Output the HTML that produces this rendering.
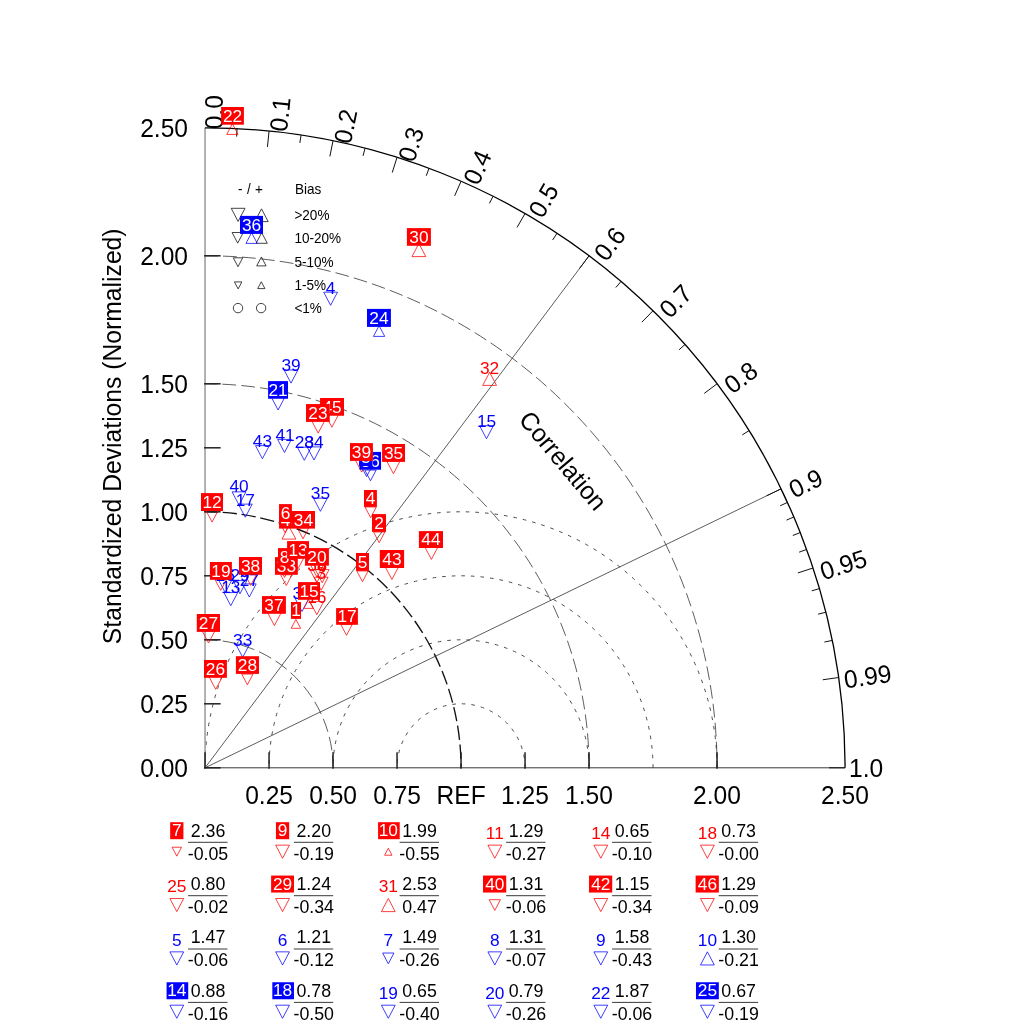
<!DOCTYPE html><html><head><meta charset="utf-8"><style>html,body{margin:0;padding:0;background:#fff}svg{display:block;will-change:transform;opacity:0.9999}text{font-family:"Liberation Sans",sans-serif}</style></head><body>
<svg width="1024" height="1024" viewBox="0 0 1024 1024">
<rect width="1024" height="1024" fill="#fff"/>
<clipPath id="q"><path d="M205.05 767.8 L845.05 767.8 A640 640 0 0 0 205.05 127.79999999999995 Z"/></clipPath>
<g clip-path="url(#q)">
<path d="M525.05 767.80 A64.00 64.00 0 0 0 397.05 767.80" fill="none" stroke="#4a4a4a" stroke-width="1.0" stroke-dasharray="3.6 6"/>
<path d="M589.05 767.80 A128.00 128.00 0 0 0 333.05 767.80" fill="none" stroke="#4a4a4a" stroke-width="1.0" stroke-dasharray="3.6 6"/>
<path d="M653.05 767.80 A192.00 192.00 0 0 0 269.05 767.80" fill="none" stroke="#4a4a4a" stroke-width="1.0" stroke-dasharray="3.6 6"/>
<path d="M717.05 767.80 A256.00 256.00 0 0 0 205.05 767.80" fill="none" stroke="#4a4a4a" stroke-width="1.0" stroke-dasharray="3.6 6"/>
</g>
<path d="M333.05 767.80 A128.00 128.00 0 0 0 205.05 639.80" fill="none" stroke="#333" stroke-width="0.8" stroke-dasharray="13.8 5.2" stroke-dashoffset="1.5"/>
<path d="M589.05 767.80 A384.00 384.00 0 0 0 205.05 383.80" fill="none" stroke="#333" stroke-width="0.8" stroke-dasharray="13.8 5.2" stroke-dashoffset="17.2"/>
<path d="M717.05 767.80 A512.00 512.00 0 0 0 205.05 255.80" fill="none" stroke="#333" stroke-width="0.8" stroke-dasharray="13.8 5.2" stroke-dashoffset="6.6"/>
<path d="M461.05 767.80 A256.00 256.00 0 0 0 205.05 511.80" fill="none" stroke="#111" stroke-width="1.35" stroke-dasharray="14.3 4.7" stroke-dashoffset="10"/>
<line x1="205.05" y1="767.8" x2="589.05" y2="255.80" stroke="#333" stroke-width="0.8"/>
<line x1="205.05" y1="767.8" x2="781.05" y2="488.83" stroke="#333" stroke-width="0.8"/>
<line x1="205.05" y1="767.8" x2="845.05" y2="767.8" stroke="#222" stroke-width="0.9"/>
<line x1="205.05" y1="127.79999999999995" x2="205.05" y2="767.8" stroke="#999" stroke-width="1.5"/>
<path d="M845.05 767.80 A640.00 640.00 0 0 0 205.05 127.80" fill="none" stroke="#000" stroke-width="1.3"/>
<line x1="204.05" y1="767.8" x2="220.65" y2="767.8" stroke="#222" stroke-width="1.5"/>
<line x1="204.05" y1="703.8" x2="220.65" y2="703.8" stroke="#222" stroke-width="1.5"/>
<line x1="204.05" y1="639.8" x2="220.65" y2="639.8" stroke="#222" stroke-width="1.5"/>
<line x1="204.05" y1="575.8" x2="220.65" y2="575.8" stroke="#222" stroke-width="1.5"/>
<line x1="204.05" y1="511.79999999999995" x2="220.65" y2="511.79999999999995" stroke="#222" stroke-width="1.5"/>
<line x1="204.05" y1="447.79999999999995" x2="220.65" y2="447.79999999999995" stroke="#222" stroke-width="1.5"/>
<line x1="204.05" y1="383.79999999999995" x2="220.65" y2="383.79999999999995" stroke="#222" stroke-width="1.5"/>
<line x1="204.05" y1="255.79999999999995" x2="220.65" y2="255.79999999999995" stroke="#222" stroke-width="1.5"/>
<line x1="205.05" y1="768.8" x2="205.05" y2="752.1999999999999" stroke="#222" stroke-width="1.5"/>
<line x1="269.05" y1="768.8" x2="269.05" y2="752.1999999999999" stroke="#222" stroke-width="1.5"/>
<line x1="333.05" y1="768.8" x2="333.05" y2="752.1999999999999" stroke="#222" stroke-width="1.5"/>
<line x1="397.05" y1="768.8" x2="397.05" y2="752.1999999999999" stroke="#222" stroke-width="1.5"/>
<line x1="461.05" y1="768.8" x2="461.05" y2="752.1999999999999" stroke="#222" stroke-width="1.5"/>
<line x1="525.05" y1="768.8" x2="525.05" y2="752.1999999999999" stroke="#222" stroke-width="1.5"/>
<line x1="589.05" y1="768.8" x2="589.05" y2="752.1999999999999" stroke="#222" stroke-width="1.5"/>
<line x1="717.05" y1="768.8" x2="717.05" y2="752.1999999999999" stroke="#222" stroke-width="1.5"/>
<line x1="269.05" y1="131.01" x2="267.45" y2="146.93" stroke="#111" stroke-width="1.0"/>
<line x1="333.05" y1="140.73" x2="329.85" y2="156.41" stroke="#111" stroke-width="1.0"/>
<line x1="397.05" y1="157.28" x2="392.25" y2="172.54" stroke="#111" stroke-width="1.0"/>
<line x1="461.05" y1="181.23" x2="454.65" y2="195.89" stroke="#111" stroke-width="1.0"/>
<line x1="525.05" y1="213.54" x2="517.05" y2="227.40" stroke="#111" stroke-width="1.0"/>
<line x1="589.05" y1="255.80" x2="579.45" y2="268.60" stroke="#111" stroke-width="1.0"/>
<line x1="653.05" y1="310.75" x2="641.85" y2="322.17" stroke="#111" stroke-width="1.0"/>
<line x1="717.05" y1="383.80" x2="704.25" y2="393.40" stroke="#111" stroke-width="1.0"/>
<line x1="781.05" y1="488.83" x2="766.65" y2="495.80" stroke="#111" stroke-width="1.0"/>
<line x1="813.05" y1="567.96" x2="797.85" y2="572.96" stroke="#111" stroke-width="1.0"/>
<line x1="838.65" y1="677.52" x2="822.81" y2="679.77" stroke="#111" stroke-width="1.0"/>
<line x1="845.05" y1="767.80" x2="829.05" y2="767.80" stroke="#111" stroke-width="1.0"/>
<line x1="237.05" y1="128.60" x2="236.65" y2="136.59" stroke="#111" stroke-width="1.0"/>
<line x1="301.05" y1="135.04" x2="299.85" y2="142.95" stroke="#111" stroke-width="1.0"/>
<line x1="365.05" y1="148.12" x2="363.05" y2="155.87" stroke="#111" stroke-width="1.0"/>
<line x1="429.05" y1="168.28" x2="426.25" y2="175.77" stroke="#111" stroke-width="1.0"/>
<line x1="493.05" y1="196.26" x2="489.45" y2="203.41" stroke="#111" stroke-width="1.0"/>
<line x1="557.05" y1="233.29" x2="552.65" y2="239.98" stroke="#111" stroke-width="1.0"/>
<line x1="621.05" y1="281.44" x2="615.85" y2="287.52" stroke="#111" stroke-width="1.0"/>
<line x1="685.05" y1="344.48" x2="679.05" y2="349.77" stroke="#111" stroke-width="1.0"/>
<line x1="749.05" y1="430.66" x2="742.25" y2="434.87" stroke="#111" stroke-width="1.0"/>
<line x1="787.45" y1="502.45" x2="780.17" y2="505.77" stroke="#111" stroke-width="1.0"/>
<line x1="793.85" y1="516.97" x2="786.49" y2="520.11" stroke="#111" stroke-width="1.0"/>
<line x1="800.25" y1="532.56" x2="792.81" y2="535.50" stroke="#111" stroke-width="1.0"/>
<line x1="806.65" y1="549.45" x2="799.13" y2="552.18" stroke="#111" stroke-width="1.0"/>
<line x1="819.45" y1="588.60" x2="811.77" y2="590.84" stroke="#111" stroke-width="1.0"/>
<line x1="825.85" y1="612.21" x2="818.09" y2="614.16" stroke="#111" stroke-width="1.0"/>
<line x1="832.25" y1="640.44" x2="824.41" y2="642.03" stroke="#111" stroke-width="1.0"/>
<text transform="translate(188 777.0) scale(0.975 1)" font-size="25.2" text-anchor="end">0.00</text>
<text transform="translate(188 713.0) scale(0.975 1)" font-size="25.2" text-anchor="end">0.25</text>
<text transform="translate(188 649.0) scale(0.975 1)" font-size="25.2" text-anchor="end">0.50</text>
<text transform="translate(188 585.0) scale(0.975 1)" font-size="25.2" text-anchor="end">0.75</text>
<text transform="translate(188 521.0) scale(0.975 1)" font-size="25.2" text-anchor="end">1.00</text>
<text transform="translate(188 457.0) scale(0.975 1)" font-size="25.2" text-anchor="end">1.25</text>
<text transform="translate(188 393.0) scale(0.975 1)" font-size="25.2" text-anchor="end">1.50</text>
<text transform="translate(188 265.0) scale(0.975 1)" font-size="25.2" text-anchor="end">2.00</text>
<text transform="translate(188 137.0) scale(0.975 1)" font-size="25.2" text-anchor="end">2.50</text>
<text transform="translate(269.1 803.5) scale(0.975 1)" font-size="25.2" text-anchor="middle">0.25</text>
<text transform="translate(333.1 803.5) scale(0.975 1)" font-size="25.2" text-anchor="middle">0.50</text>
<text transform="translate(397.1 803.5) scale(0.975 1)" font-size="25.2" text-anchor="middle">0.75</text>
<text transform="translate(461.1 803.5) scale(0.975 1)" font-size="25.2" text-anchor="middle">REF</text>
<text transform="translate(525.0 803.5) scale(0.975 1)" font-size="25.2" text-anchor="middle">1.25</text>
<text transform="translate(589.0 803.5) scale(0.975 1)" font-size="25.2" text-anchor="middle">1.50</text>
<text transform="translate(717.0 803.5) scale(0.975 1)" font-size="25.2" text-anchor="middle">2.00</text>
<text transform="translate(845.0 803.5) scale(0.975 1)" font-size="25.2" text-anchor="middle">2.50</text>
<text transform="translate(205.05 129.30) rotate(-90.00) translate(0 18.1) scale(0.975 1)" font-size="25.2">0.0</text>
<text transform="translate(269.11 130.41) rotate(-84.26) translate(0 18.1) scale(0.975 1)" font-size="25.2">0.1</text>
<text transform="translate(332.95 141.22) rotate(-78.46) translate(0 18.1) scale(0.975 1)" font-size="25.2">0.2</text>
<text transform="translate(396.90 157.76) rotate(-72.54) translate(0 18.1) scale(0.975 1)" font-size="25.2">0.3</text>
<text transform="translate(461.93 179.21) rotate(-66.42) translate(0 18.1) scale(0.975 1)" font-size="25.2">0.4</text>
<text transform="translate(526.85 210.43) rotate(-60.00) translate(0 18.1) scale(0.975 1)" font-size="25.2">0.5</text>
<text transform="translate(591.93 251.96) rotate(-53.13) translate(0 18.1) scale(0.975 1)" font-size="25.2">0.6</text>
<text transform="translate(656.97 306.75) rotate(-45.57) translate(0 18.1) scale(0.975 1)" font-size="25.2">0.7</text>
<text transform="translate(721.61 380.38) rotate(-36.87) translate(0 18.1) scale(0.975 1)" font-size="25.2">0.8</text>
<text transform="translate(787.80 485.56) rotate(-25.84) translate(0 14.6) scale(0.975 1)" font-size="25.2">0.9</text>
<text transform="translate(818.65 566.12) rotate(-18.19) translate(0 15.2) scale(0.975 1)" font-size="25.2">0.95</text>
<text transform="translate(843.60 676.81) rotate(-8.11) translate(0 11.8) scale(0.975 1)" font-size="25.2">0.99</text>
<text transform="translate(849.05 767.80) rotate(-0.00) translate(0 8.8) scale(0.975 1)" font-size="25.2">1.0</text>
<text transform="translate(517.8 420.3) rotate(50) scale(0.975 1)" font-size="25.2">Correlation</text>
<text transform="translate(121.2 436.3) rotate(-90) scale(0.98 1)" font-size="25.2" text-anchor="middle">Standardized Deviations (Normalized)</text>
<text transform="translate(250.5 193.75) scale(0.955 1)" font-size="14.2" fill="#000" text-anchor="middle" word-spacing="0.6">- / +</text>
<text transform="translate(295.0 193.75) scale(0.955 1)" font-size="14.2" fill="#000" text-anchor="start" word-spacing="0.6">Bias</text>
<text transform="translate(294.4 219.7) scale(0.955 1)" font-size="14.2" fill="#000" text-anchor="start" word-spacing="0.6">&gt;20%</text>
<text transform="translate(294.4 243.1) scale(0.955 1)" font-size="14.2" fill="#000" text-anchor="start" word-spacing="0.6">10-20%</text>
<text transform="translate(294.4 266.6) scale(0.955 1)" font-size="14.2" fill="#000" text-anchor="start" word-spacing="0.6">5-10%</text>
<text transform="translate(294.4 289.9) scale(0.955 1)" font-size="14.2" fill="#000" text-anchor="start" word-spacing="0.6">1-5%</text>
<text transform="translate(294.4 313.0) scale(0.955 1)" font-size="14.2" fill="#000" text-anchor="start" word-spacing="0.6">&lt;1%</text>
<polygon points="231.20,208.30 245.00,208.30 238.10,221.41" fill="none" stroke="#222" stroke-width="0.85"/>
<polygon points="254.80,221.60 268.20,221.60 261.50,208.87" fill="none" stroke="#222" stroke-width="0.85"/>
<polygon points="232.10,232.50 243.30,232.50 237.70,243.14" fill="none" stroke="#222" stroke-width="0.85"/>
<polygon points="256.10,243.30 267.30,243.30 261.70,232.66" fill="none" stroke="#222" stroke-width="0.85"/>
<polygon points="233.30,257.80 242.70,257.80 238.00,266.73" fill="none" stroke="#222" stroke-width="0.85"/>
<polygon points="256.70,265.90 266.10,265.90 261.40,256.97" fill="none" stroke="#222" stroke-width="0.85"/>
<polygon points="234.45,281.90 241.85,281.90 238.15,288.93" fill="none" stroke="#222" stroke-width="0.85"/>
<polygon points="257.70,288.60 264.90,288.60 261.30,281.76" fill="none" stroke="#222" stroke-width="0.85"/>
<circle cx="238.0" cy="308.1" r="4.7" fill="none" stroke="#222" stroke-width="0.85"/>
<circle cx="261.1" cy="308.1" r="4.7" fill="none" stroke="#222" stroke-width="0.85"/>
<polygon points="323.70,292.19 337.50,292.19 330.60,305.30" fill="none" stroke="#0000ff" stroke-width="0.75"/>
<polygon points="284.10,369.99 297.90,369.99 291.00,383.10" fill="none" stroke="#0000ff" stroke-width="0.75"/>
<polygon points="255.50,445.64 269.30,445.64 262.40,458.75" fill="none" stroke="#0000ff" stroke-width="0.75"/>
<polygon points="277.60,439.39 291.40,439.39 284.50,452.50" fill="none" stroke="#0000ff" stroke-width="0.75"/>
<polygon points="297.40,447.19 311.20,447.19 304.30,460.30" fill="none" stroke="#0000ff" stroke-width="0.75"/>
<polygon points="307.10,446.89 320.90,446.89 314.00,460.00" fill="none" stroke="#0000ff" stroke-width="0.75"/>
<polygon points="232.10,491.89 245.90,491.89 239.00,505.00" fill="none" stroke="#0000ff" stroke-width="0.75"/>
<polygon points="238.40,504.14 252.20,504.14 245.30,517.25" fill="none" stroke="#0000ff" stroke-width="0.75"/>
<polygon points="313.50,498.19 327.30,498.19 320.40,511.30" fill="none" stroke="#0000ff" stroke-width="0.75"/>
<polygon points="479.60,425.69 493.40,425.69 486.50,438.80" fill="none" stroke="#0000ff" stroke-width="0.75"/>
<polygon points="235.80,644.19 249.60,644.19 242.70,657.30" fill="none" stroke="#0000ff" stroke-width="0.75"/>
<polygon points="218.35,579.49 232.15,579.49 225.25,592.60" fill="none" stroke="#0000ff" stroke-width="0.75"/>
<polygon points="233.10,580.64 246.90,580.64 240.00,593.75" fill="none" stroke="#0000ff" stroke-width="0.75"/>
<polygon points="242.40,583.89 256.20,583.89 249.30,597.00" fill="none" stroke="#0000ff" stroke-width="0.75"/>
<polygon points="223.90,592.59 237.70,592.59 230.80,605.70" fill="none" stroke="#0000ff" stroke-width="0.75"/>
<polygon points="295.10,598.39 308.90,598.39 302.00,611.50" fill="none" stroke="#0000ff" stroke-width="0.75"/>
<polygon points="482.70,385.40 496.50,385.40 489.60,372.29" fill="none" stroke="#ff0000" stroke-width="0.75"/>
<polygon points="282.00,539.10 295.80,539.10 288.90,525.99" fill="none" stroke="#ff0000" stroke-width="0.75"/>
<polygon points="309.90,569.59 323.70,569.59 316.80,582.70" fill="none" stroke="#ff0000" stroke-width="0.75"/>
<polygon points="315.30,569.59 329.10,569.59 322.20,582.70" fill="none" stroke="#ff0000" stroke-width="0.75"/>
<polygon points="314.30,577.19 328.10,577.19 321.20,590.30" fill="none" stroke="#ff0000" stroke-width="0.75"/>
<polygon points="309.90,601.59 323.70,601.59 316.80,614.70" fill="none" stroke="#ff0000" stroke-width="0.75"/>
<polygon points="245.95,243.40 257.25,243.40 251.60,232.66" fill="none" stroke="#0000ff" stroke-width="0.75"/>
<polygon points="271.20,396.89 285.00,396.89 278.10,410.00" fill="none" stroke="#0000ff" stroke-width="0.75"/>
<polygon points="373.45,336.40 384.75,336.40 379.10,325.66" fill="none" stroke="#0000ff" stroke-width="0.75"/>
<polygon points="364.85,470.06 376.15,470.06 370.50,480.80" fill="none" stroke="#0000ff" stroke-width="0.75"/>
<polygon points="360.95,465.87 372.25,465.87 366.60,476.60" fill="none" stroke="#0000ff" stroke-width="0.75"/>
<polygon points="226.75,134.40 238.05,134.40 232.40,123.66" fill="none" stroke="#ff0000" stroke-width="0.75"/>
<polygon points="412.00,256.60 425.80,256.60 418.90,243.49" fill="none" stroke="#ff0000" stroke-width="0.75"/>
<polygon points="325.00,414.09 338.80,414.09 331.90,427.20" fill="none" stroke="#ff0000" stroke-width="0.75"/>
<polygon points="311.30,419.99 325.10,419.99 318.20,433.10" fill="none" stroke="#ff0000" stroke-width="0.75"/>
<polygon points="354.80,458.99 368.60,458.99 361.70,472.10" fill="none" stroke="#ff0000" stroke-width="0.75"/>
<polygon points="386.50,460.59 400.30,460.59 393.40,473.70" fill="none" stroke="#ff0000" stroke-width="0.75"/>
<polygon points="365.00,506.97 376.30,506.97 370.65,517.70" fill="none" stroke="#ff0000" stroke-width="0.75"/>
<polygon points="373.55,531.97 384.85,531.97 379.20,542.70" fill="none" stroke="#ff0000" stroke-width="0.75"/>
<polygon points="424.50,546.29 438.30,546.29 431.40,559.40" fill="none" stroke="#ff0000" stroke-width="0.75"/>
<polygon points="385.00,566.39 398.80,566.39 391.90,579.50" fill="none" stroke="#ff0000" stroke-width="0.75"/>
<polygon points="356.85,570.97 368.15,570.97 362.50,581.70" fill="none" stroke="#ff0000" stroke-width="0.75"/>
<polygon points="205.20,508.99 219.00,508.99 212.10,522.10" fill="none" stroke="#ff0000" stroke-width="0.75"/>

<polygon points="279.35,521.87 290.65,521.87 285.00,532.60" fill="none" stroke="#ff0000" stroke-width="0.75"/>
<polygon points="297.35,528.07 308.65,528.07 303.00,538.80" fill="none" stroke="#ff0000" stroke-width="0.75"/>
<polygon points="280.65,574.77 291.95,574.77 286.30,585.50" fill="none" stroke="#ff0000" stroke-width="0.75"/>
<polygon points="277.70,564.29 291.50,564.29 284.60,577.40" fill="none" stroke="#ff0000" stroke-width="0.75"/>
<polygon points="292.35,558.07 303.65,558.07 298.00,568.80" fill="none" stroke="#ff0000" stroke-width="0.75"/>
<polygon points="310.10,564.09 323.90,564.09 317.00,577.20" fill="none" stroke="#ff0000" stroke-width="0.75"/>
<polygon points="215.10,579.67 226.40,579.67 220.75,590.40" fill="none" stroke="#ff0000" stroke-width="0.75"/>
<polygon points="245.05,574.67 256.35,574.67 250.70,585.40" fill="none" stroke="#ff0000" stroke-width="0.75"/>
<polygon points="303.80,608.40 313.20,608.40 308.50,599.47" fill="none" stroke="#ff0000" stroke-width="0.75"/>
<polygon points="267.50,612.49 281.30,612.49 274.40,625.60" fill="none" stroke="#ff0000" stroke-width="0.75"/>
<polygon points="291.20,628.30 300.60,628.30 295.90,619.37" fill="none" stroke="#ff0000" stroke-width="0.75"/>
<polygon points="340.85,624.57 352.15,624.57 346.50,635.30" fill="none" stroke="#ff0000" stroke-width="0.75"/>
<polygon points="201.65,629.89 215.45,629.89 208.55,643.00" fill="none" stroke="#ff0000" stroke-width="0.75"/>
<polygon points="208.80,676.29 222.60,676.29 215.70,689.40" fill="none" stroke="#ff0000" stroke-width="0.75"/>
<polygon points="241.75,674.07 253.05,674.07 247.40,684.80" fill="none" stroke="#ff0000" stroke-width="0.75"/>
<text transform="translate(330.60 293.75) scale(1.0 1)" font-size="17.3" fill="#0000ff" text-anchor="middle">4</text>
<text transform="translate(291.00 371.40) scale(1.0 1)" font-size="17.3" fill="#0000ff" text-anchor="middle">39</text>
<text transform="translate(262.40 446.70) scale(1.0 1)" font-size="17.3" fill="#0000ff" text-anchor="middle">43</text>
<text transform="translate(285.00 441.25) scale(1.0 1)" font-size="17.3" fill="#0000ff" text-anchor="middle">41</text>
<text transform="translate(304.30 448.30) scale(1.0 1)" font-size="17.3" fill="#0000ff" text-anchor="middle">28</text>
<text transform="translate(314.00 448.30) scale(1.0 1)" font-size="17.3" fill="#0000ff" text-anchor="middle">34</text>
<text transform="translate(239.00 492.30) scale(1.0 1)" font-size="17.3" fill="#0000ff" text-anchor="middle">40</text>
<text transform="translate(245.30 505.50) scale(1.0 1)" font-size="17.3" fill="#0000ff" text-anchor="middle">17</text>
<text transform="translate(320.40 499.00) scale(1.0 1)" font-size="17.3" fill="#0000ff" text-anchor="middle">35</text>
<text transform="translate(486.50 426.90) scale(1.0 1)" font-size="17.3" fill="#0000ff" text-anchor="middle">15</text>
<text transform="translate(242.70 645.60) scale(1.0 1)" font-size="17.3" fill="#0000ff" text-anchor="middle">33</text>
<text transform="translate(225.25 581.00) scale(1.0 1)" font-size="17.3" fill="#0000ff" text-anchor="middle">26</text>
<text transform="translate(240.00 581.40) scale(1.0 1)" font-size="17.3" fill="#0000ff" text-anchor="middle">29</text>
<text transform="translate(249.30 585.75) scale(1.0 1)" font-size="17.3" fill="#0000ff" text-anchor="middle">27</text>
<text transform="translate(230.80 593.10) scale(1.0 1)" font-size="17.3" fill="#0000ff" text-anchor="middle">13</text>
<text transform="translate(302.00 599.30) scale(1.0 1)" font-size="17.3" fill="#0000ff" text-anchor="middle">31</text>
<text transform="translate(489.60 373.90) scale(1.0 1)" font-size="17.3" fill="#ff0000" text-anchor="middle">32</text>

<text transform="translate(316.80 570.70) scale(1.0 1)" font-size="17.3" fill="#ff0000" text-anchor="middle">38</text>
<text transform="translate(322.20 570.70) scale(1.0 1)" font-size="17.3" fill="#ff0000" text-anchor="middle">8</text>
<text transform="translate(321.20 579.40) scale(1.0 1)" font-size="17.3" fill="#ff0000" text-anchor="middle">3</text>
<text transform="translate(316.80 602.90) scale(1.0 1)" font-size="17.3" fill="#ff0000" text-anchor="middle">16</text>
<rect x="240.00" y="215.90" width="23.00" height="18.00" fill="#0000ff"/><text transform="translate(251.50 231.00) scale(1.0 1)" font-size="17.3" fill="#fff" text-anchor="middle">36</text>
<rect x="268.10" y="381.10" width="19.90" height="17.65" fill="#0000ff"/><text transform="translate(278.05 395.85) scale(1.0 1)" font-size="17.3" fill="#fff" text-anchor="middle">21</text>
<rect x="367.00" y="308.90" width="23.90" height="18.00" fill="#0000ff"/><text transform="translate(378.95 324.00) scale(1.0 1)" font-size="17.3" fill="#fff" text-anchor="middle">24</text>
<rect x="359.50" y="451.90" width="21.56" height="17.80" fill="#0000ff"/><text transform="translate(370.28 466.80) scale(1.0 1)" font-size="17.3" fill="#fff" text-anchor="middle">36</text>
<rect x="359.06" y="448.30" width="13.44" height="17.70" fill="#0000ff"/><text transform="translate(365.78 463.10) scale(1.0 1)" font-size="17.3" fill="#fff" text-anchor="middle">3</text>
<rect x="221.10" y="107.00" width="22.80" height="17.70" fill="#ff0000"/><text transform="translate(232.50 121.80) scale(1.0 1)" font-size="17.3" fill="#fff" text-anchor="middle">22</text>
<rect x="406.90" y="228.10" width="24.00" height="17.70" fill="#ff0000"/><text transform="translate(418.90 242.90) scale(1.0 1)" font-size="17.3" fill="#fff" text-anchor="middle">30</text>
<rect x="320.06" y="398.00" width="23.94" height="17.75" fill="#ff0000"/><text transform="translate(332.03 412.85) scale(1.0 1)" font-size="17.3" fill="#fff" text-anchor="middle">45</text>
<rect x="306.00" y="404.06" width="23.75" height="17.84" fill="#ff0000"/><text transform="translate(317.88 419.00) scale(1.0 1)" font-size="17.3" fill="#fff" text-anchor="middle">23</text>
<rect x="350.00" y="443.10" width="22.90" height="17.80" fill="#ff0000"/><text transform="translate(361.45 458.00) scale(1.0 1)" font-size="17.3" fill="#fff" text-anchor="middle">39</text>
<rect x="382.10" y="444.00" width="22.90" height="17.90" fill="#ff0000"/><text transform="translate(393.55 459.00) scale(1.0 1)" font-size="17.3" fill="#fff" text-anchor="middle">35</text>
<rect x="364.00" y="490.00" width="12.90" height="16.90" fill="#ff0000"/><text transform="translate(370.45 504.00) scale(1.0 1)" font-size="17.3" fill="#fff" text-anchor="middle">4</text>
<rect x="372.00" y="514.10" width="14.00" height="17.80" fill="#ff0000"/><text transform="translate(379.00 529.00) scale(1.0 1)" font-size="17.3" fill="#fff" text-anchor="middle">2</text>
<rect x="418.90" y="531.10" width="24.10" height="16.90" fill="#ff0000"/><text transform="translate(430.95 545.10) scale(1.0 1)" font-size="17.3" fill="#fff" text-anchor="middle">44</text>
<rect x="379.80" y="550.00" width="24.30" height="18.00" fill="#ff0000"/><text transform="translate(391.95 565.10) scale(1.0 1)" font-size="17.3" fill="#fff" text-anchor="middle">43</text>
<rect x="356.00" y="553.00" width="13.00" height="17.90" fill="#ff0000"/><text transform="translate(362.50 568.00) scale(1.0 1)" font-size="17.3" fill="#fff" text-anchor="middle">5</text>
<rect x="201.00" y="493.10" width="22.00" height="17.90" fill="#ff0000"/><text transform="translate(212.00 508.10) scale(1.0 1)" font-size="17.3" fill="#fff" text-anchor="middle">12</text>
<rect x="279.06" y="511.00" width="12.84" height="17.60" fill="#ff0000"/><text transform="translate(285.48 525.70) scale(1.0 1)" font-size="17.3" fill="#fff" text-anchor="middle">4</text>
<rect x="279.06" y="504.10" width="12.84" height="17.80" fill="#ff0000"/><text transform="translate(285.48 519.00) scale(1.0 1)" font-size="17.3" fill="#fff" text-anchor="middle">6</text>
<rect x="291.90" y="511.00" width="23.10" height="17.60" fill="#ff0000"/><text transform="translate(303.45 525.70) scale(1.0 1)" font-size="17.3" fill="#fff" text-anchor="middle">34</text>
<rect x="275.00" y="557.10" width="22.80" height="17.70" fill="#ff0000"/><text transform="translate(286.40 571.90) scale(1.0 1)" font-size="17.3" fill="#fff" text-anchor="middle">33</text>
<rect x="278.00" y="548.10" width="13.00" height="17.60" fill="#ff0000"/><text transform="translate(284.50 562.80) scale(1.0 1)" font-size="17.3" fill="#fff" text-anchor="middle">8</text>
<rect x="287.10" y="541.10" width="21.90" height="17.60" fill="#ff0000"/><text transform="translate(298.05 555.80) scale(1.0 1)" font-size="17.3" fill="#fff" text-anchor="middle">13</text>
<rect x="305.06" y="548.10" width="23.84" height="17.60" fill="#ff0000"/><text transform="translate(316.98 562.80) scale(1.0 1)" font-size="17.3" fill="#fff" text-anchor="middle">20</text>
<rect x="209.90" y="562.00" width="22.00" height="17.80" fill="#ff0000"/><text transform="translate(220.90 576.90) scale(1.0 1)" font-size="17.3" fill="#fff" text-anchor="middle">19</text>
<rect x="239.00" y="557.00" width="23.00" height="17.80" fill="#ff0000"/><text transform="translate(250.50 571.90) scale(1.0 1)" font-size="17.3" fill="#fff" text-anchor="middle">38</text>
<rect x="298.00" y="582.10" width="22.00" height="17.70" fill="#ff0000"/><text transform="translate(309.00 596.90) scale(1.0 1)" font-size="17.3" fill="#fff" text-anchor="middle">15</text>
<rect x="262.00" y="596.10" width="23.90" height="17.70" fill="#ff0000"/><text transform="translate(273.95 610.90) scale(1.0 1)" font-size="17.3" fill="#fff" text-anchor="middle">37</text>
<rect x="291.00" y="602.00" width="10.00" height="16.90" fill="#ff0000"/><text transform="translate(296.00 616.00) scale(1.0 1)" font-size="17.3" fill="#fff" text-anchor="middle">1</text>
<rect x="336.10" y="608.10" width="21.80" height="16.70" fill="#ff0000"/><text transform="translate(347.00 621.90) scale(1.0 1)" font-size="17.3" fill="#fff" text-anchor="middle">17</text>
<rect x="196.80" y="614.00" width="23.20" height="17.90" fill="#ff0000"/><text transform="translate(208.40 629.00) scale(1.0 1)" font-size="17.3" fill="#fff" text-anchor="middle">27</text>
<rect x="204.00" y="660.00" width="22.90" height="17.80" fill="#ff0000"/><text transform="translate(215.45 674.90) scale(1.0 1)" font-size="17.3" fill="#fff" text-anchor="middle">26</text>
<rect x="235.90" y="656.20" width="23.10" height="17.70" fill="#ff0000"/><text transform="translate(247.45 671.00) scale(1.0 1)" font-size="17.3" fill="#fff" text-anchor="middle">28</text>
<text transform="translate(208.00 836.60) scale(1.0 1)" font-size="17.8" fill="#000" text-anchor="middle">2.36</text>
<text transform="translate(208.00 859.60) scale(1.0 1)" font-size="17.8" fill="#000" text-anchor="middle">-0.05</text>
<line x1="188.1" y1="842.3" x2="227.5" y2="842.3" stroke="#222" stroke-width="0.9"/>
<polygon points="172.10,847.24 181.50,847.24 176.80,856.17" fill="none" stroke="#ff0000" stroke-width="0.75"/>
<rect x="170.18" y="822.20" width="13.23" height="17.0" fill="#ff0000"/>
<text transform="translate(176.80 836.20) scale(1.0 1)" font-size="17.3" fill="#fff" text-anchor="middle">7</text>
<text transform="translate(313.75 836.60) scale(1.0 1)" font-size="17.8" fill="#000" text-anchor="middle">2.20</text>
<text transform="translate(313.75 859.60) scale(1.0 1)" font-size="17.8" fill="#000" text-anchor="middle">-0.19</text>
<line x1="293.9" y1="842.3" x2="333.2" y2="842.3" stroke="#222" stroke-width="0.9"/>
<polygon points="275.65,845.15 289.45,845.15 282.55,858.25" fill="none" stroke="#ff0000" stroke-width="0.75"/>
<rect x="275.93" y="822.20" width="13.23" height="17.0" fill="#ff0000"/>
<text transform="translate(282.55 836.20) scale(1.0 1)" font-size="17.3" fill="#fff" text-anchor="middle">9</text>
<text transform="translate(419.50 836.60) scale(1.0 1)" font-size="17.8" fill="#000" text-anchor="middle">1.99</text>
<text transform="translate(419.50 859.60) scale(1.0 1)" font-size="17.8" fill="#000" text-anchor="middle">-0.55</text>
<line x1="399.6" y1="842.3" x2="439.0" y2="842.3" stroke="#222" stroke-width="0.9"/>
<polygon points="384.60,855.22 392.00,855.22 388.30,848.19" fill="none" stroke="#ff0000" stroke-width="0.75"/>
<rect x="378.08" y="822.20" width="21.64" height="17.0" fill="#ff0000"/>
<text transform="translate(388.30 836.20) scale(1.0 1)" font-size="17.3" fill="#fff" text-anchor="middle">10</text>
<text transform="translate(526.00 836.60) scale(1.0 1)" font-size="17.8" fill="#000" text-anchor="middle">1.29</text>
<text transform="translate(526.00 859.60) scale(1.0 1)" font-size="17.8" fill="#000" text-anchor="middle">-0.27</text>
<line x1="506.1" y1="842.3" x2="545.5" y2="842.3" stroke="#222" stroke-width="0.9"/>
<polygon points="487.90,845.15 501.70,845.15 494.80,858.25" fill="none" stroke="#ff0000" stroke-width="0.75"/>
<text transform="translate(494.80 838.80) scale(1.0 1)" font-size="17.3" fill="#ff0000" text-anchor="middle">11</text>
<text transform="translate(632.00 836.60) scale(1.0 1)" font-size="17.8" fill="#000" text-anchor="middle">0.65</text>
<text transform="translate(632.00 859.60) scale(1.0 1)" font-size="17.8" fill="#000" text-anchor="middle">-0.10</text>
<line x1="612.1" y1="842.3" x2="651.5" y2="842.3" stroke="#222" stroke-width="0.9"/>
<polygon points="593.90,845.15 607.70,845.15 600.80,858.25" fill="none" stroke="#ff0000" stroke-width="0.75"/>
<text transform="translate(600.80 838.80) scale(1.0 1)" font-size="17.3" fill="#ff0000" text-anchor="middle">14</text>
<text transform="translate(738.60 836.60) scale(1.0 1)" font-size="17.8" fill="#000" text-anchor="middle">0.73</text>
<text transform="translate(738.60 859.60) scale(1.0 1)" font-size="17.8" fill="#000" text-anchor="middle">-0.00</text>
<line x1="718.7" y1="842.3" x2="758.1" y2="842.3" stroke="#222" stroke-width="0.9"/>
<polygon points="700.50,845.15 714.30,845.15 707.40,858.25" fill="none" stroke="#ff0000" stroke-width="0.75"/>
<text transform="translate(707.40 838.80) scale(1.0 1)" font-size="17.3" fill="#ff0000" text-anchor="middle">18</text>
<text transform="translate(208.00 889.95) scale(1.0 1)" font-size="17.8" fill="#000" text-anchor="middle">0.80</text>
<text transform="translate(208.00 912.95) scale(1.0 1)" font-size="17.8" fill="#000" text-anchor="middle">-0.02</text>
<line x1="188.1" y1="895.7" x2="227.5" y2="895.7" stroke="#222" stroke-width="0.9"/>
<polygon points="169.90,898.50 183.70,898.50 176.80,911.61" fill="none" stroke="#ff0000" stroke-width="0.75"/>
<text transform="translate(176.80 892.15) scale(1.0 1)" font-size="17.3" fill="#ff0000" text-anchor="middle">25</text>
<text transform="translate(313.75 889.95) scale(1.0 1)" font-size="17.8" fill="#000" text-anchor="middle">1.24</text>
<text transform="translate(313.75 912.95) scale(1.0 1)" font-size="17.8" fill="#000" text-anchor="middle">-0.34</text>
<line x1="293.9" y1="895.7" x2="333.2" y2="895.7" stroke="#222" stroke-width="0.9"/>
<polygon points="275.65,898.50 289.45,898.50 282.55,911.61" fill="none" stroke="#ff0000" stroke-width="0.75"/>
<rect x="271.12" y="875.55" width="22.85" height="17.0" fill="#ff0000"/>
<text transform="translate(282.55 889.55) scale(1.0 1)" font-size="17.3" fill="#fff" text-anchor="middle">29</text>
<text transform="translate(419.50 889.95) scale(1.0 1)" font-size="17.8" fill="#000" text-anchor="middle">2.53</text>
<text transform="translate(419.50 912.95) scale(1.0 1)" font-size="17.8" fill="#000" text-anchor="middle">0.47</text>
<line x1="399.6" y1="895.7" x2="439.0" y2="895.7" stroke="#222" stroke-width="0.9"/>
<polygon points="381.40,911.61 395.20,911.61 388.30,898.50" fill="none" stroke="#ff0000" stroke-width="0.75"/>
<text transform="translate(388.30 892.15) scale(1.0 1)" font-size="17.3" fill="#ff0000" text-anchor="middle">31</text>
<text transform="translate(526.00 889.95) scale(1.0 1)" font-size="17.8" fill="#000" text-anchor="middle">1.31</text>
<text transform="translate(526.00 912.95) scale(1.0 1)" font-size="17.8" fill="#000" text-anchor="middle">-0.06</text>
<line x1="506.1" y1="895.7" x2="545.5" y2="895.7" stroke="#222" stroke-width="0.9"/>
<polygon points="489.15,899.68 500.45,899.68 494.80,910.42" fill="none" stroke="#ff0000" stroke-width="0.75"/>
<rect x="483.03" y="875.55" width="23.20" height="17.0" fill="#ff0000"/>
<text transform="translate(494.80 889.55) scale(1.0 1)" font-size="17.3" fill="#fff" text-anchor="middle">40</text>
<text transform="translate(632.00 889.95) scale(1.0 1)" font-size="17.8" fill="#000" text-anchor="middle">1.15</text>
<text transform="translate(632.00 912.95) scale(1.0 1)" font-size="17.8" fill="#000" text-anchor="middle">-0.34</text>
<line x1="612.1" y1="895.7" x2="651.5" y2="895.7" stroke="#222" stroke-width="0.9"/>
<polygon points="593.90,898.50 607.70,898.50 600.80,911.61" fill="none" stroke="#ff0000" stroke-width="0.75"/>
<rect x="589.03" y="875.55" width="23.20" height="17.0" fill="#ff0000"/>
<text transform="translate(600.80 889.55) scale(1.0 1)" font-size="17.3" fill="#fff" text-anchor="middle">42</text>
<text transform="translate(738.60 889.95) scale(1.0 1)" font-size="17.8" fill="#000" text-anchor="middle">1.29</text>
<text transform="translate(738.60 912.95) scale(1.0 1)" font-size="17.8" fill="#000" text-anchor="middle">-0.09</text>
<line x1="718.7" y1="895.7" x2="758.1" y2="895.7" stroke="#222" stroke-width="0.9"/>
<polygon points="700.50,898.50 714.30,898.50 707.40,911.61" fill="none" stroke="#ff0000" stroke-width="0.75"/>
<rect x="695.63" y="875.55" width="23.20" height="17.0" fill="#ff0000"/>
<text transform="translate(707.40 889.55) scale(1.0 1)" font-size="17.3" fill="#fff" text-anchor="middle">46</text>
<text transform="translate(208.00 943.30) scale(1.0 1)" font-size="17.8" fill="#000" text-anchor="middle">1.47</text>
<text transform="translate(208.00 966.30) scale(1.0 1)" font-size="17.8" fill="#000" text-anchor="middle">-0.06</text>
<line x1="188.1" y1="949.0" x2="227.5" y2="949.0" stroke="#222" stroke-width="0.9"/>
<polygon points="169.90,951.85 183.70,951.85 176.80,964.96" fill="none" stroke="#0000ff" stroke-width="0.75"/>
<text transform="translate(176.80 945.50) scale(1.0 1)" font-size="17.3" fill="#0000ff" text-anchor="middle">5</text>
<text transform="translate(313.75 943.30) scale(1.0 1)" font-size="17.8" fill="#000" text-anchor="middle">1.21</text>
<text transform="translate(313.75 966.30) scale(1.0 1)" font-size="17.8" fill="#000" text-anchor="middle">-0.12</text>
<line x1="293.9" y1="949.0" x2="333.2" y2="949.0" stroke="#222" stroke-width="0.9"/>
<polygon points="275.65,951.85 289.45,951.85 282.55,964.96" fill="none" stroke="#0000ff" stroke-width="0.75"/>
<text transform="translate(282.55 945.50) scale(1.0 1)" font-size="17.3" fill="#0000ff" text-anchor="middle">6</text>
<text transform="translate(419.50 943.30) scale(1.0 1)" font-size="17.8" fill="#000" text-anchor="middle">1.49</text>
<text transform="translate(419.50 966.30) scale(1.0 1)" font-size="17.8" fill="#000" text-anchor="middle">-0.26</text>
<line x1="399.6" y1="949.0" x2="439.0" y2="949.0" stroke="#222" stroke-width="0.9"/>
<polygon points="382.65,953.03 393.95,953.03 388.30,963.77" fill="none" stroke="#0000ff" stroke-width="0.75"/>
<text transform="translate(388.30 945.50) scale(1.0 1)" font-size="17.3" fill="#0000ff" text-anchor="middle">7</text>
<text transform="translate(526.00 943.30) scale(1.0 1)" font-size="17.8" fill="#000" text-anchor="middle">1.31</text>
<text transform="translate(526.00 966.30) scale(1.0 1)" font-size="17.8" fill="#000" text-anchor="middle">-0.07</text>
<line x1="506.1" y1="949.0" x2="545.5" y2="949.0" stroke="#222" stroke-width="0.9"/>
<polygon points="487.90,951.85 501.70,951.85 494.80,964.96" fill="none" stroke="#0000ff" stroke-width="0.75"/>
<text transform="translate(494.80 945.50) scale(1.0 1)" font-size="17.3" fill="#0000ff" text-anchor="middle">8</text>
<text transform="translate(632.00 943.30) scale(1.0 1)" font-size="17.8" fill="#000" text-anchor="middle">1.58</text>
<text transform="translate(632.00 966.30) scale(1.0 1)" font-size="17.8" fill="#000" text-anchor="middle">-0.43</text>
<line x1="612.1" y1="949.0" x2="651.5" y2="949.0" stroke="#222" stroke-width="0.9"/>
<polygon points="593.90,951.85 607.70,951.85 600.80,964.96" fill="none" stroke="#0000ff" stroke-width="0.75"/>
<text transform="translate(600.80 945.50) scale(1.0 1)" font-size="17.3" fill="#0000ff" text-anchor="middle">9</text>
<text transform="translate(738.60 943.30) scale(1.0 1)" font-size="17.8" fill="#000" text-anchor="middle">1.30</text>
<text transform="translate(738.60 966.30) scale(1.0 1)" font-size="17.8" fill="#000" text-anchor="middle">-0.21</text>
<line x1="718.7" y1="949.0" x2="758.1" y2="949.0" stroke="#222" stroke-width="0.9"/>
<polygon points="700.50,964.96 714.30,964.96 707.40,951.85" fill="none" stroke="#0000ff" stroke-width="0.75"/>
<text transform="translate(707.40 945.50) scale(1.0 1)" font-size="17.3" fill="#0000ff" text-anchor="middle">10</text>
<text transform="translate(208.00 996.65) scale(1.0 1)" font-size="17.8" fill="#000" text-anchor="middle">0.88</text>
<text transform="translate(208.00 1019.65) scale(1.0 1)" font-size="17.8" fill="#000" text-anchor="middle">-0.16</text>
<line x1="188.1" y1="1002.4" x2="227.5" y2="1002.4" stroke="#222" stroke-width="0.9"/>
<polygon points="169.90,1005.20 183.70,1005.20 176.80,1018.31" fill="none" stroke="#0000ff" stroke-width="0.75"/>
<rect x="166.58" y="982.25" width="21.64" height="17.0" fill="#0000ff"/>
<text transform="translate(176.80 996.25) scale(1.0 1)" font-size="17.3" fill="#fff" text-anchor="middle">14</text>
<text transform="translate(313.75 996.65) scale(1.0 1)" font-size="17.8" fill="#000" text-anchor="middle">0.78</text>
<text transform="translate(313.75 1019.65) scale(1.0 1)" font-size="17.8" fill="#000" text-anchor="middle">-0.50</text>
<line x1="293.9" y1="1002.4" x2="333.2" y2="1002.4" stroke="#222" stroke-width="0.9"/>
<polygon points="275.65,1005.20 289.45,1005.20 282.55,1018.31" fill="none" stroke="#0000ff" stroke-width="0.75"/>
<rect x="272.33" y="982.25" width="21.64" height="17.0" fill="#0000ff"/>
<text transform="translate(282.55 996.25) scale(1.0 1)" font-size="17.3" fill="#fff" text-anchor="middle">18</text>
<text transform="translate(419.50 996.65) scale(1.0 1)" font-size="17.8" fill="#000" text-anchor="middle">0.65</text>
<text transform="translate(419.50 1019.65) scale(1.0 1)" font-size="17.8" fill="#000" text-anchor="middle">-0.40</text>
<line x1="399.6" y1="1002.4" x2="439.0" y2="1002.4" stroke="#222" stroke-width="0.9"/>
<polygon points="381.40,1005.20 395.20,1005.20 388.30,1018.31" fill="none" stroke="#0000ff" stroke-width="0.75"/>
<text transform="translate(388.30 998.85) scale(1.0 1)" font-size="17.3" fill="#0000ff" text-anchor="middle">19</text>
<text transform="translate(526.00 996.65) scale(1.0 1)" font-size="17.8" fill="#000" text-anchor="middle">0.79</text>
<text transform="translate(526.00 1019.65) scale(1.0 1)" font-size="17.8" fill="#000" text-anchor="middle">-0.26</text>
<line x1="506.1" y1="1002.4" x2="545.5" y2="1002.4" stroke="#222" stroke-width="0.9"/>
<polygon points="487.90,1005.20 501.70,1005.20 494.80,1018.31" fill="none" stroke="#0000ff" stroke-width="0.75"/>
<text transform="translate(494.80 998.85) scale(1.0 1)" font-size="17.3" fill="#0000ff" text-anchor="middle">20</text>
<text transform="translate(632.00 996.65) scale(1.0 1)" font-size="17.8" fill="#000" text-anchor="middle">1.87</text>
<text transform="translate(632.00 1019.65) scale(1.0 1)" font-size="17.8" fill="#000" text-anchor="middle">-0.06</text>
<line x1="612.1" y1="1002.4" x2="651.5" y2="1002.4" stroke="#222" stroke-width="0.9"/>
<polygon points="593.90,1005.20 607.70,1005.20 600.80,1018.31" fill="none" stroke="#0000ff" stroke-width="0.75"/>
<text transform="translate(600.80 998.85) scale(1.0 1)" font-size="17.3" fill="#0000ff" text-anchor="middle">22</text>
<text transform="translate(738.60 996.65) scale(1.0 1)" font-size="17.8" fill="#000" text-anchor="middle">0.67</text>
<text transform="translate(738.60 1019.65) scale(1.0 1)" font-size="17.8" fill="#000" text-anchor="middle">-0.19</text>
<line x1="718.7" y1="1002.4" x2="758.1" y2="1002.4" stroke="#222" stroke-width="0.9"/>
<polygon points="700.50,1005.20 714.30,1005.20 707.40,1018.31" fill="none" stroke="#0000ff" stroke-width="0.75"/>
<rect x="695.97" y="982.25" width="22.85" height="17.0" fill="#0000ff"/>
<text transform="translate(707.40 996.25) scale(1.0 1)" font-size="17.3" fill="#fff" text-anchor="middle">25</text>
</svg></body></html>
